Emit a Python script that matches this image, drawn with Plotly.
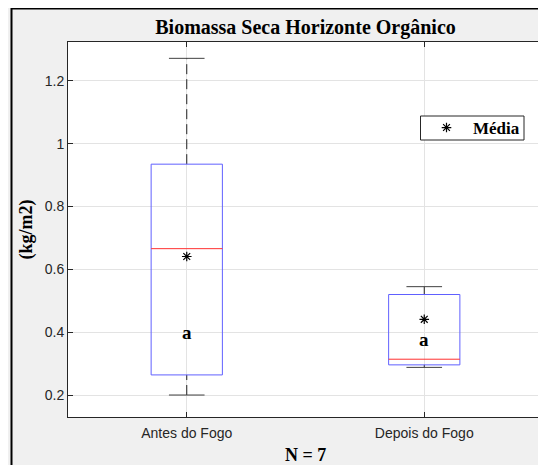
import plotly.graph_objects as go

categorias = ["Antes do Fogo", "Depois do Fogo"]
posicoes = [1, 2]
minimo = [0.200, 0.288]
q1 = [0.264, 0.296]
mediana = [0.666, 0.314]
q3 = [0.935, 0.520]
maximo = [1.272, 0.545]
media = [0.641, 0.441]
letras = ["a", "a"]
letras_y = [0.400, 0.377]

MEIA_CAIXA = 0.15
MEIA_BARRA = 0.075
SERIF = "Liberation Serif, Times New Roman, serif"
SANS = "Liberation Sans, Arial, sans-serif"

# a pagina tem 8px de margem no body, entao tudo e deslocado
OFF = 8
W, H = 546 - OFF, 465 - OFF
AX_L, AX_R, AX_T, AX_B = 68, 543, 42, 417   # eixos em pixels da janela
L, R, T, B = AX_L - OFF, W - (AX_R - OFF), AX_T - OFF, H - (AX_B - OFF)


def segmentos(pares):
    xs, ys = [], []
    for x0, y0, x1, y1 in pares:
        xs += [x0, x1, None]
        ys += [y0, y1, None]
    return xs, ys


def px_x(p):
    return (p - AX_L) / (AX_R - AX_L)


def px_y(p):
    return (AX_B - p) / (AX_B - AX_T)


fig = go.Figure()

# bigodes tracejados
xs, ys = segmentos(
    [(p, a, p, b) for p, a, b in zip(posicoes, q3, maximo)]
    + [(p, a, p, b) for p, a, b in zip(posicoes, minimo, q1)]
)
fig.add_scatter(x=xs, y=ys, mode="lines", showlegend=False, hoverinfo="skip",
                line=dict(color="#222222", width=1, dash="10px,5px"))

# barras dos extremos
xs, ys = segmentos(
    [(p - MEIA_BARRA, v, p + MEIA_BARRA, v) for p, v in zip(posicoes, maximo)]
    + [(p - MEIA_BARRA, v, p + MEIA_BARRA, v) for p, v in zip(posicoes, minimo)]
)
fig.add_scatter(x=xs, y=ys, mode="lines", showlegend=False, hoverinfo="skip",
                line=dict(color="#404040", width=1))

# caixas
xs, ys = [], []
for p, a, b in zip(posicoes, q1, q3):
    xs += [p - MEIA_CAIXA, p + MEIA_CAIXA, p + MEIA_CAIXA, p - MEIA_CAIXA, p - MEIA_CAIXA, None]
    ys += [a, a, b, b, a, None]
fig.add_scatter(x=xs, y=ys, mode="lines", showlegend=False, hoverinfo="skip",
                line=dict(color="#6060ff", width=1))

# medianas
xs, ys = segmentos([(p - MEIA_CAIXA, m, p + MEIA_CAIXA, m) for p, m in zip(posicoes, mediana)])
fig.add_scatter(x=xs, y=ys, mode="lines", showlegend=False, hoverinfo="skip",
                line=dict(color="#ff3030", width=1))

# medias
fig.add_scatter(x=posicoes, y=media, mode="markers", name="<b>Média</b>",
                marker=dict(symbol="asterisk-open", size=8, color="black",
                            line=dict(color="black", width=1.2)))

for p, y, t in zip(posicoes, letras_y, letras):
    fig.add_annotation(x=p, y=y, text=f"<b>{t}</b>", showarrow=False,
                       font=dict(family=SERIF, size=19, color="black"))

fig.add_annotation(x=px_x(26), y=0.5, xref="paper", yref="paper", text="<b>(kg/m2)</b>",
                   textangle=-90, showarrow=False, xanchor="center", yanchor="middle",
                   font=dict(family=SERIF, size=18, color="black"))
fig.add_annotation(x=0.5, y=px_y(455), xref="paper", yref="paper", text="<b>N = 7</b>",
                   showarrow=False, xanchor="center", yanchor="middle",
                   font=dict(family=SERIF, size=18, color="black"))

# caixa da legenda
fig.add_shape(type="rect", xref="paper", yref="paper", layer="above",
              x0=px_x(420.5), x1=px_x(524), y0=px_y(140), y1=px_y(116),
              fillcolor="white", line=dict(color="#262626", width=1))

# moldura da figura
fig.add_shape(type="rect", xref="paper", yref="paper", x0=px_x(11.5), x1=px_x(570),
              y0=px_y(490), y1=px_y(8.5), line=dict(color="black", width=2))

eixo = dict(showline=True, linecolor="#262626", linewidth=1, mirror="allticks",
            ticks="inside", ticklen=5, tickcolor="#262626",
            showgrid=True, gridcolor="#e3e3e3", gridwidth=1, zeroline=False,
            tickfont=dict(family=SANS, size=14, color="#262626"))

fig.update_xaxes(eixo, range=[0.5, 2.5], tickvals=posicoes, ticktext=categorias,
                 ticklabelstandoff=3)
fig.update_yaxes(eixo, range=[0.13, 1.324], tickvals=[0.2, 0.4, 0.6, 0.8, 1, 1.2])

fig.update_layout(
    width=W, height=H,
    margin=dict(l=L, r=R, t=T, b=B),
    paper_bgcolor="#f0f0f0", plot_bgcolor="white",
    title=dict(text="<b>Biomassa Seca Horizonte Orgânico</b>", x=0.5, xref="paper",
               y=1 - (27 - OFF) / H, yanchor="middle",
               font=dict(family=SERIF, size=20, color="black")),
    showlegend=True,
    legend=dict(x=px_x(420), y=px_y(128), xanchor="left", yanchor="middle",
                bgcolor="rgba(0,0,0,0)", borderwidth=0,
                font=dict(family=SERIF, size=17, color="black"),
                itemwidth=43, tracegroupgap=0),
)

fig.write_html("out.html")
